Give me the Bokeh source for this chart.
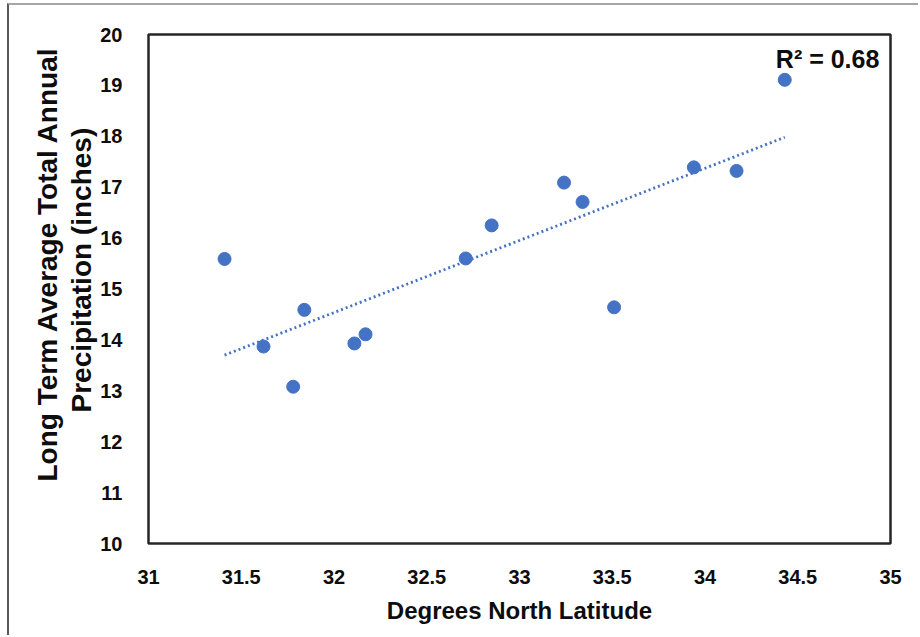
import numpy as np
from bokeh.plotting import figure
from bokeh.models import FixedTicker, Label, Title
from bokeh.embed import file_html
from bokeh.resources import INLINE

# Station latitude (degrees N) and long-term average annual precipitation (inches)
latitude = [31.41, 31.62, 31.78, 31.84, 32.11, 32.17, 32.71, 32.85,
            33.24, 33.34, 33.51, 33.94, 34.17, 34.43]
precipitation = [15.59, 13.87, 13.08, 14.59, 13.93, 14.11, 15.60, 16.25,
                 17.09, 16.71, 14.64, 17.39, 17.32, 19.11]

x_ticks = [31, 31.5, 32, 32.5, 33, 33.5, 34, 34.5, 35]
x_tick_labels = ["31", "31.5", "32", "32.5", "33", "33.5", "34", "34.5", "35"]
y_ticks = [10, 11, 12, 13, 14, 15, 16, 17, 18, 19, 20]
y_title_lines = ["Long Term Average Total Annual", "Precipitation (inches)"]
x_title = "Degrees North Latitude"

BLUE = "#4472C4"
FONT = "Liberation Sans"
INK = "#0d0d0d"

# Least-squares linear trend and its coefficient of determination
slope, intercept = np.polyfit(latitude, precipitation, 1)
fit_x = [min(latitude), max(latitude)]
fit_y = [slope * x + intercept for x in fit_x]
r2 = np.corrcoef(latitude, precipitation)[0, 1] ** 2

p = figure(width=911, height=632, x_range=(31, 35), y_range=(10, 20),
           output_backend="svg", toolbar_location=None,
           min_border_left=139, min_border_right=30,
           min_border_top=29, min_border_bottom=94)
p.styles = {"margin-left": "7px", "margin-top": "3px",
            "border-left": "2px solid #5a5a5a", "border-top": "2px solid #a6a6a6"}

p.background_fill_color = "white"
p.border_fill_color = "white"
p.outline_line_color = "#262626"
p.outline_line_width = 2.5
p.outline_line_alpha = 1.0
p.xgrid.visible = False
p.ygrid.visible = False

for ax in (p.xaxis[0], p.yaxis[0]):
    ax.axis_line_color = None
    ax.major_tick_line_color = None
    ax.minor_tick_line_color = None
    ax.major_label_text_font = FONT
    ax.major_label_text_font_style = "bold"
    ax.major_label_text_font_size = "20px"
    ax.major_label_text_color = INK
    ax.major_label_standoff = 20
    ax.axis_label_text_font = FONT
    ax.axis_label_text_font_style = "bold"
    ax.axis_label_text_color = INK

p.xaxis.ticker = FixedTicker(ticks=x_ticks)
p.xaxis.major_label_overrides = dict(zip(x_ticks, x_tick_labels))
p.yaxis.ticker = FixedTicker(ticks=y_ticks)

p.xaxis.axis_label = x_title
p.xaxis.axis_label_text_font_size = "24px"
p.xaxis.axis_label_standoff = 10

# Two-line vertical title: second line sits next to the tick labels,
# the first line outside it; offsets lift both lines a little above centre
for title_line, off, gap in zip(reversed(y_title_lines), [131, 62], [1, 2]):
    p.add_layout(Title(text=title_line, align="left", offset=off,
                       standoff=gap, text_font=FONT, text_font_style="bold",
                       text_font_size="28px", text_color=INK), "left")

p.line(fit_x, fit_y, line_color=BLUE, line_width=2.8, line_dash="2 3")
p.scatter(latitude, precipitation, size=13, color=BLUE)

p.add_layout(Label(x=34.94, y=19.52, text=f"R\u00b2 = {r2:.2f}",
                   text_align="right", text_baseline="alphabetic",
                   text_font=FONT, text_font_style="bold",
                   text_font_size="25px", text_color=INK))

open("out.html", "w").write(file_html(p, INLINE))
